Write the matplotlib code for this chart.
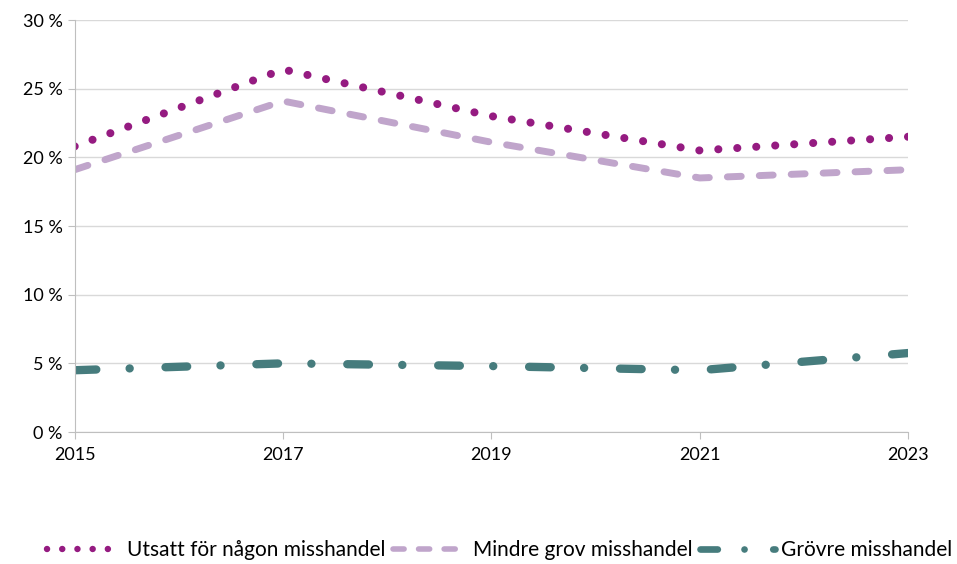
import matplotlib
matplotlib.use("Agg")
import matplotlib.pyplot as plt
from matplotlib.lines import Line2D

plt.rcParams['font.family'] = ['Lato', 'DejaVu Sans']

years = [2015, 2017, 2019, 2021, 2023]
utsatt = [20.8, 26.4, 23.0, 20.5, 21.5]
mindre = [19.1, 24.1, 21.1, 18.5, 19.1]
grovre = [4.5, 5.0, 4.8, 4.5, 5.75]

labels = ["Utsatt för någon misshandel", "Mindre grov misshandel", "Grövre misshandel"]
colors = ["#951B81", "#C0A5CB", "#467C7D"]

fig = plt.figure(figsize=(9.57, 5.64), dpi=100)
ax = fig.add_axes([0.078, 0.234, 0.871, 0.7305])

styles = [
    dict(lw=5.8, ls=(0, (0.01, 2.35))),
    dict(lw=5.0, ls=(0, (2.0, 2.6))),
    dict(lw=6.0, ls=(0, (2.6, 4.0, 0.01, 4.3))),
]

for vals, c, st in zip([utsatt, mindre, grovre], colors, styles):
    ax.plot(years, vals, color=c, linewidth=st['lw'], linestyle=st['ls'],
            dash_capstyle='round', solid_capstyle='round')

ax.set_xlim(2015, 2023)
ax.set_ylim(0, 30)
ax.set_xticks(years)
ax.set_yticks(range(0, 31, 5))
ax.set_yticklabels([f"{v} %" for v in range(0, 31, 5)])
ax.grid(axis='y', color='#D9D9D9', linewidth=1)
ax.set_axisbelow(True)
for s in ['top', 'right']:
    ax.spines[s].set_visible(False)
for s in ['left', 'bottom']:
    ax.spines[s].set_color('#BFBFBF')
ax.tick_params(axis='both', colors='#BFBFBF', labelcolor='black', labelsize=13, length=5)
ax.tick_params(axis='x', pad=6)

handles = [Line2D([0], [0], color=c, linewidth=st['lw'] * 0.8, linestyle=st['ls'],
                  dash_capstyle='round', solid_capstyle='round')
           for c, st in zip(colors, styles)]
fig.legend(handles, labels, loc='center', bbox_to_anchor=(0.522, 0.025), ncol=3,
           frameon=False, fontsize=15, handlelength=3.6, handletextpad=0.25,
           columnspacing=0.35)

fig.savefig("out.png", dpi=100)
